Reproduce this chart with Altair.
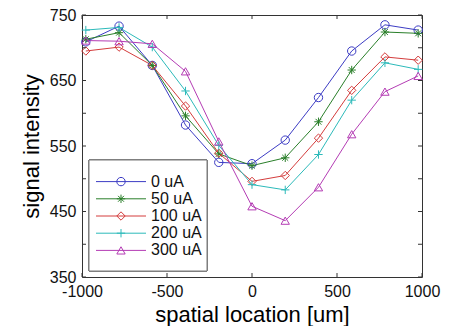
import altair as alt
import pandas as pd

# ---- data ----
x_um = [-977.5, -782, -586.5, -391, -195.5, 0, 195.5, 391, 586.5, 782, 977.5]
series = ["0 uA", "50 uA", "100 uA", "200 uA", "300 uA"]
s0 = [709, 733, 673, 582, 525, 523, 559, 624, 695, 735, 727]
s50 = [713, 723, 673, 596, 538, 520, 532, 587, 666, 724, 722]
s100 = [695, 701, 673, 611, 539, 496, 505, 562, 635, 686, 681]
s200 = [727, 731, 701, 634, 551, 491, 483, 537, 620, 677, 667]
s300 = [711, 710, 706, 664, 557, 458, 436, 487, 568, 633, 657]
values = [s0, s50, s100, s200, s300]

x_ticks = [-1000, -500, 0, 500, 1000]
y_labels = [350, 450, 550, 650, 750]
y_ticks = [350, 400, 450, 500, 550, 600, 650, 700, 750]

# ---- styles ----
colors = ["#3c3cc4", "#2a7f2a", "#d43c3c", "#2cbaba", "#b43cb4"]
star = "M-1,0L1,0M0,-1L0,1M-0.7,-0.7L0.7,0.7M-0.7,0.7L0.7,-0.7"
plus = "M-1,0L1,0M0,-1L0,1"
shapes = ["circle", star, "diamond", plus, "triangle-up"]
sizes = [70, 70, 80, 100, 90]
FONT = "Liberation Sans"
FRAME = "#333333"
W, H = 340, 262

rows = []
for name, vals in zip(series, values):
    for xv, yv in zip(x_um, vals):
        rows.append({"x": xv, "y": yv, "series": name})
df = pd.DataFrame(rows)

color = alt.Color("series:N", scale=alt.Scale(domain=series, range=colors), legend=None)
shape = alt.Shape("series:N", scale=alt.Scale(domain=series, range=shapes), legend=None)
size = alt.Size("series:N", scale=alt.Scale(domain=series, range=sizes), legend=None)

xenc = alt.X("x:Q", scale=alt.Scale(domain=[-1000, 1000], nice=False, zero=False),
             axis=alt.Axis(values=x_ticks, title="spatial location [um]",
                           labelExpr="'' + datum.value",
                           labelFlush=False, labelOverlap=False))
yenc = alt.Y("y:Q", scale=alt.Scale(domain=[350, 750], nice=False, zero=False),
             axis=alt.Axis(values=y_labels, title="signal intensity",
                           labelExpr="'' + datum.value",
                           labelFlush=False, labelOverlap=False))

base = alt.Chart(df)
lines = base.mark_line(strokeWidth=1).encode(x=xenc, y=yenc, color=color)
points = base.mark_point(filled=False, strokeWidth=1, opacity=1).encode(
    x=xenc, y=yenc, color=color, shape=shape, size=size)

xt = pd.DataFrame({"x": x_ticks})
yt = pd.DataFrame({"y": y_ticks})
tb = alt.Chart(xt).mark_rule(color=FRAME, strokeWidth=1).encode(
    x="x:Q", y=alt.value(H), y2=alt.value(H - 4))
tt = alt.Chart(xt).mark_rule(color=FRAME, strokeWidth=1).encode(
    x="x:Q", y=alt.value(0), y2=alt.value(4))
tl = alt.Chart(yt).mark_rule(color=FRAME, strokeWidth=1).encode(
    y="y:Q", x=alt.value(0), x2=alt.value(4))
tr = alt.Chart(yt).mark_rule(color=FRAME, strokeWidth=1).encode(
    y="y:Q", x=alt.value(W), x2=alt.value(W - 4))

main = alt.layer(lines, points, tb, tt, tl, tr)

# ---- legend drawn as marks ----
leg_df = pd.DataFrame({"series": series})
leg_y = alt.Y("series:N", scale=alt.Scale(domain=series, range=[158, 244], padding=0), axis=None)
box = alt.Chart(leg_df).mark_rect(fill="white", stroke="#7a7a7a", strokeWidth=1).encode(
    x=alt.value(7), x2=alt.value(125), y=alt.value(145), y2=alt.value(256))
leg_rule = alt.Chart(leg_df).mark_rule(strokeWidth=1).encode(
    x=alt.value(14), x2=alt.value(64), y=leg_y, color=color)
leg_pts = alt.Chart(leg_df).mark_point(filled=False, strokeWidth=1, opacity=1).encode(
    x=alt.value(39), y=leg_y, color=color, shape=shape, size=size)
leg_txt = alt.Chart(leg_df).mark_text(align="left", baseline="middle", font=FONT,
                                      fontSize=16, color="#111111").encode(
    x=alt.value(69), y=leg_y, text="series:N")
legend = alt.layer(box, leg_rule, leg_pts, leg_txt)

chart = alt.layer(main, legend).resolve_scale(y="independent").properties(
    width=W, height=H,
    padding={"left": 74, "top": 7, "right": 20, "bottom": 52},
    autosize=alt.AutoSizeParams(type="none"),
).configure_axis(
    labelFont=FONT, titleFont=FONT, labelFontSize=16, titleFontSize=22,
    titleFontWeight="normal", labelColor="#111111", titleColor="#000000",
    ticks=False, tickSize=0, domain=False, grid=False,
    labelPadding=6, titlePadding=5,
).configure_axisY(titlePadding=6).configure_view(stroke=FRAME, strokeWidth=1)

chart.save("out.html", embed_options={"renderer": "svg", "actions": False})
